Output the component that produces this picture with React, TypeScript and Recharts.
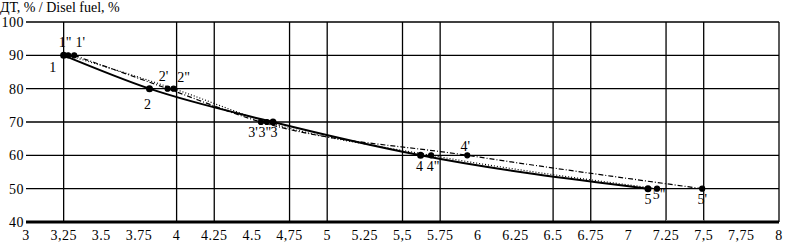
import { LineChart, Line, XAxis, YAxis, CartesianGrid, ReferenceLine } from "recharts";

// y levels shared by all three series
const levels = [90, 80, 70, 60, 50];

// x positions of points
const xBase = [3.25, 3.82, 4.64, 5.62, 7.13];
const xPrime = [3.32, 3.94, 4.56, 5.93, 7.49];
const xDouble = [3.28, 3.98, 4.6, 5.69, 7.19];

const namesBase = ["1", "2", "3", "4", "5"];
const namesPrime = ["1'", "2'", "3'", "4'", "5'"];
const namesDouble = ["1\"", "2\"", "3\"", "4\"", "5\""];

const xTicks = [3, 3.25, 3.5, 3.75, 4, 4.25, 4.5, 4.75, 5, 5.25, 5.5, 5.75, 6, 6.25, 6.5, 6.75, 7, 7.25, 7.5, 7.75, 8];
const xTickLabels = ["3", "3,25", "3.5", "3.75", "4", "4.25", "4.5", "4,75", "5", "5.25", "5,5", "5.75", "6", "6.25", "6.5", "6.75", "7", "7.25", "7,5", "7,75", "8"];
const yTicks = [40, 50, 60, 70, 80, 90, 100];
const gridX = [3.25, 4, 4.25, 4.75, 5, 5.5, 5.75, 6.5, 6.75, 7.25, 7.5, 8];

const toRows = (xs: number[]) => xs.map((x, i) => ({ x, y: levels[i] }));

// label placement relative to the point, [dx, dy]
const offBase = [[-11, 17], [-2, 20], [1, 15], [-1, 16], [0, 15]];
const offPrime = [[6, -8], [-4, -8], [-8, 15], [-2, -4], [0, 15]];
const offDouble = [[-3, -8], [10, -7], [-2, 15], [2, 16], [2, 10]];

const serif = { fontFamily: "Liberation Serif, Times New Roman, serif", fill: "#000" };

const makeLabel = (names: string[], offs: number[][]) => (p: any) => {
  const i = p.index;
  return (
    <text key={i} x={p.x + offs[i][0]} y={p.y + offs[i][1]} textAnchor="middle" fontSize={14} style={serif}>
      {names[i]}
    </text>
  );
};

const XTick = ({ x, y, payload }: any) => {
  const idx = xTicks.indexOf(payload.value);
  return (
    <text x={x} y={y + 10} textAnchor="middle" fontSize={14} letterSpacing={0.5} style={serif}>
      {xTickLabels[idx]}
    </text>
  );
};

const YTick = ({ y, payload }: any) => (
  <text x={24} y={y + 5} textAnchor="end" fontSize={14} letterSpacing={0.5} style={serif}>
    {payload.value}
  </text>
);

export default function App() {
  return (
    <div style={{ position: "absolute", top: 0, left: 0, width: 786, height: 244, background: "#fff" }}>
      <div style={{ position: "absolute", top: 0, left: 0, fontFamily: "Liberation Serif, serif", fontSize: 14, lineHeight: "16px" }}>
        ДТ, % / Disel fuel, %
      </div>
      <LineChart width={786} height={244} margin={{ top: 22, right: 7, left: 0, bottom: 0 }}>
        <CartesianGrid vertical={false} stroke="#000" strokeWidth={1.3} />
        {gridX.map((v) => (
          <ReferenceLine key={v} x={v} stroke="#000" strokeWidth={1.3} />
        ))}
        <XAxis
          type="number"
          dataKey="x"
          domain={[3, 8]}
          ticks={xTicks}
          tick={<XTick />}
          tickLine={false}
          axisLine={{ stroke: "#000", strokeWidth: 3 }}
          height={22}
          allowDataOverflow
        />
        <YAxis
          type="number"
          domain={[40, 100]}
          ticks={yTicks}
          tick={<YTick />}
          tickLine={false}
          axisLine={false}
          width={26}
        />
        <ReferenceLine segment={[{ x: 7.25, y: 40 }, { x: 7.5, y: 40 }]} stroke="#fff" strokeWidth={4} />
        <ReferenceLine segment={[{ x: 7.25, y: 40 }, { x: 7.5, y: 40 }]} stroke="#000" strokeWidth={1} strokeDasharray="1 1" />
        <Line
          data={toRows(xDouble)}
          dataKey="y"
          type="monotone"
          stroke="#000"
          strokeWidth={1.2}
          strokeDasharray="1 2"
          dot={{ r: 2.5, fill: "#000", stroke: "#000", strokeDasharray: "" }}
          label={makeLabel(namesDouble, offDouble)}
          isAnimationActive={false}
        />
        <Line
          data={toRows(xPrime)}
          dataKey="y"
          type="monotone"
          stroke="#000"
          strokeWidth={1.2}
          strokeDasharray="5 2 1 2"
          dot={{ r: 2.5, fill: "#000", stroke: "#000", strokeDasharray: "" }}
          label={makeLabel(namesPrime, offPrime)}
          isAnimationActive={false}
        />
        <Line
          data={toRows(xBase)}
          dataKey="y"
          type="monotone"
          stroke="#000"
          strokeWidth={2}
          dot={{ r: 2.5, fill: "#000", stroke: "#000" }}
          label={makeLabel(namesBase, offBase)}
          isAnimationActive={false}
        />
      </LineChart>
    </div>
  );
}
